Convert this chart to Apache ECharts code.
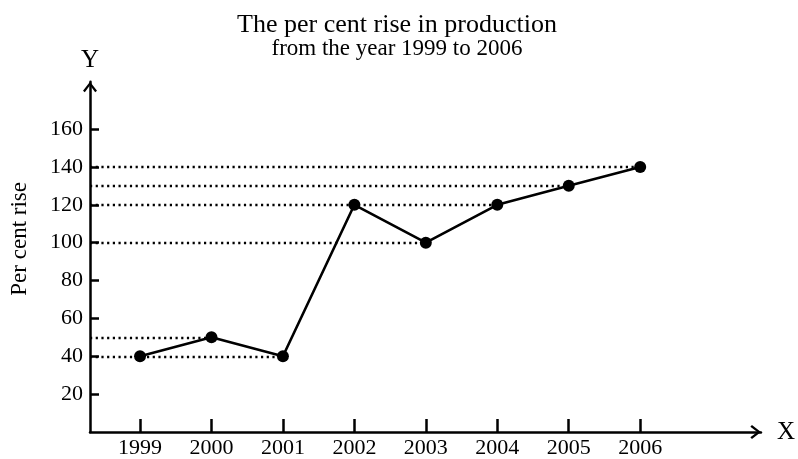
<!DOCTYPE html>
<html><head><meta charset="utf-8">
<script src="https://cdn.jsdelivr.net/npm/echarts@6/dist/echarts.min.js"></script>
<style>html,body{margin:0;padding:0;background:#fff}#c{width:798px;height:459px}</style>
</head><body><div id="c"></div>
<script>
const years = [1999, 2000, 2001, 2002, 2003, 2004, 2005, 2006];
const percentRise = [40, 50, 40, 120, 100, 120, 130, 140];
const yTicks = [20, 40, 60, 80, 100, 120, 140, 160];
const titleLines = ['The per cent rise in production', 'from the year 1999 to 2006'];
const yName = 'Per cent rise';

const X_MIN = 1998.30, X_MAX = 2007.69, Y_MIN = 0, Y_MAX = 185;
const FONT = '"Liberation Serif", "Times New Roman", serif';

// dotted guide from the Y axis to the last point reaching each value
const seen = {};
const guideLines = [];
for (let i = years.length - 1; i >= 0; i--) {
  const v = percentRise[i];
  if (!seen[v]) { seen[v] = true; guideLines.push([{ coord: [X_MIN, v] }, { coord: [years[i], v] }]); }
}

const arrow = 'path://M7,0 L14,9 L12.2,10.6 L7,3.6 L1.8,10.6 L0,9 Z';

const chart = echarts.init(document.getElementById('c'), null, { renderer: 'canvas' });
chart.setOption({
  animation: false,
  backgroundColor: '#fff',
  textStyle: { fontFamily: FONT, color: '#000' },
  title: {
    text: '{a|' + titleLines[0] + '}\n{b|' + titleLines[1] + '}', left: 392, textAlign: 'center', top: 9,
    textStyle: {
      fontFamily: FONT, fontWeight: 'normal', color: '#000',
      rich: {
        a: { fontFamily: FONT, fontSize: 26, lineHeight: 23, color: '#000' },
        b: { fontFamily: FONT, fontSize: 23, lineHeight: 24, color: '#000' }
      }
    }
  },
  grid: { left: 90, right: 36.3, top: 81.7, bottom: 26, containLabel: false },
  xAxis: {
    type: 'value', min: X_MIN, max: X_MAX,
    name: 'X', nameLocation: 'end', nameGap: 16,
    nameTextStyle: { fontFamily: FONT, fontSize: 25, color: '#000', verticalAlign: 'middle' },
    axisLine: { show: true, onZero: false, symbol: ['none', arrow], symbolSize: [14, 10.6], symbolOffset: [0, -5.3], lineStyle: { color: '#000', width: 2.5 } },
    axisTick: { show: true, inside: true, length: 13, customValues: years, lineStyle: { color: '#000', width: 2.5 } },
    axisLabel: { customValues: years, formatter: v => String(v), fontFamily: FONT, fontSize: 22, color: '#000', margin: 5 },
    splitLine: { show: false }
  },
  yAxis: {
    type: 'value', min: Y_MIN, max: Y_MAX,
    name: 'Y', nameLocation: 'end', nameGap: 9,
    nameTextStyle: { fontFamily: FONT, fontSize: 25, color: '#000', align: 'center' },
    axisLine: { show: true, onZero: false, symbol: ['none', arrow], symbolSize: [14, 10.6], symbolOffset: [0, -5.3], lineStyle: { color: '#000', width: 2.5 } },
    axisTick: { show: true, inside: true, length: 9, customValues: yTicks, lineStyle: { color: '#000', width: 2.5 } },
    axisLabel: { customValues: yTicks, fontFamily: FONT, fontSize: 22, color: '#000', margin: 7 },
    splitLine: { show: false }
  },
  graphic: [{
    type: 'text', left: 8, top: 182, rotation: Math.PI / 2,
    style: { text: yName, font: '23px ' + FONT, fill: '#000' }
  }],
  series: [{
    type: 'line',
    data: years.map((y, i) => [y, percentRise[i]]),
    symbol: 'circle', symbolSize: 12,
    itemStyle: { color: '#000' },
    lineStyle: { color: '#000', width: 2.6 },
    z: 5,
    markLine: {
      silent: true, symbol: ['none', 'none'], label: { show: false },
      lineStyle: { color: '#000', width: 2.4, type: [2.2, 3.5] },
      data: guideLines,
      z: 2
    }
  }]
});
</script></body></html>
